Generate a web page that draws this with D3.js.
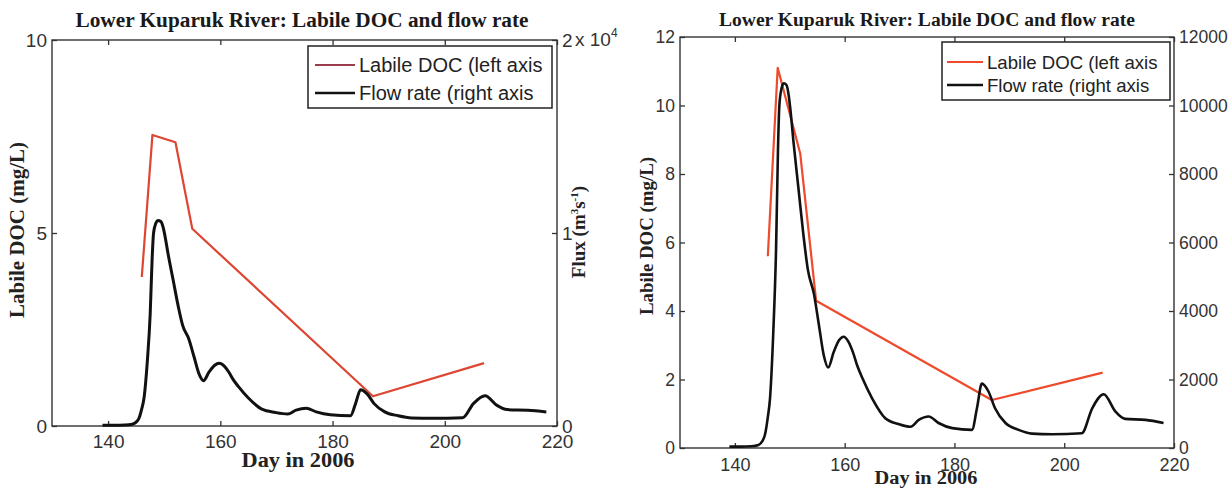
<!DOCTYPE html>
<html>
<head>
<meta charset="utf-8">
<script src="https://cdnjs.cloudflare.com/ajax/libs/d3/7.8.5/d3.min.js"></script>
<style>
  body { margin: 0; background: #fff; }
  svg { display: block; }
</style>
</head>
<body>
<script>
/* global d3 */
// flow rate (m3/s), day of year 2006 - same record in both panels
var flowDay = [139.0, 141.0, 143.0, 144.3, 145.0, 145.5, 146.0, 146.4, 147.0, 147.5,
  147.85, 148.1, 148.5, 148.9, 149.4, 149.8, 150.1, 150.7, 151.6, 152.5,
  153.3, 154.4, 155.3, 156.2, 157.0, 158.0, 159.0, 159.8, 160.7, 161.5,
  162.3, 163.2, 165.0, 167.4, 169.8, 172.0, 173.5, 175.3, 177.1, 179.6,
  183.2, 184.1, 185.0, 186.2, 187.4, 189.3, 191.7, 194.1, 197.8, 203.2,
  205.1, 207.2, 209.3, 211.1, 214.8, 218.1]
var flowRate = [40, 40, 50, 90, 200, 400, 900, 1450, 3400, 5800,
  8700, 10000, 10500, 10650, 10600, 10300, 9900, 8900, 7550, 6200,
  5200, 4500, 3600, 2700, 2350, 2800, 3150, 3250, 3100, 2800,
  2400, 2050, 1450, 870, 700, 620, 820, 920, 730, 580,
  530, 1160, 1880, 1650, 1160, 730, 530, 420, 400, 430,
  1160, 1570, 1070, 850, 820, 730]

// labile DOC (mg/L), left and right panel
var docDayA = [146.0, 147.9, 152.0, 155.0, 187.2, 207.0]
var docA = [3.86, 7.54, 7.35, 5.11, 0.77, 1.63]
var docDayB = [146.0, 147.8, 151.9, 154.8, 186.8, 207.0]
var docB = [5.6, 11.1, 8.6, 4.3, 1.4, 2.2]

var dayTicks = [140, 160, 180, 200, 220]
var docTicksA = [0, 5, 10]
var flowTicksA = [0, 10000, 20000]
var docTicksB = [0, 2, 4, 6, 8, 10, 12]
var flowTicksB = [0, 2000, 4000, 6000, 8000, 10000, 12000]

var titleText = 'Lower Kuparuk River: Labile DOC and flow rate'
var legendText = ['Labile DOC (left axis', 'Flow rate (right axis']

;(function () {
  'use strict'

  var svg = d3.select('body').append('svg')
    .attr('width', 1231)
    .attr('height', 492)

  var serif = '"Liberation Serif", "Times New Roman", serif'
  var sans = '"Liberation Sans", Arial, sans-serif'

  var flow = flowDay.map(function (d, i) { return { day: d, v: flowRate[i] } })

  var panels = [
    {
      x: [52, 557], y: [426, 40],
      doc: docDayA.map(function (d, i) { return { day: d, v: docA[i] } }),
      docMax: 10, flowMax: 20000, docTicks: docTicksA, flowTicks: flowTicksA,
      flowFmt: function (d) { return String(d / 10000) },
      red: '#dc4632', legendRed: '#9a3c4c', flowW: 3,
      fs: 19, title: { x: 302, y: 27, len: 453, fs: 20 },
      xlab: { x: 298, y: 467, len: 113, fs: 20 },
      ylab: { x: 24, y: 230, len: 176, fs: 20 },
      legend: { x: 308, y: 46, w: 244, h: 62, row: [65, 93], line: [315, 355], tx: 359, fs: 20 },
      xPad: 9
    },
    {
      x: [680, 1174], y: [448, 37],
      doc: docDayB.map(function (d, i) { return { day: d, v: docB[i] } }),
      docMax: 12, flowMax: 12000, docTicks: docTicksB, flowTicks: flowTicksB,
      flowFmt: function (d) { return String(d) },
      red: '#ee4a2b', legendRed: '#ee4a2b', flowW: 2.6,
      fs: 17.5, title: { x: 927, y: 26, len: 416, fs: 18.5 },
      xlab: { x: 926, y: 484, len: 103, fs: 18.5 },
      ylab: { x: 653, y: 236, len: 158, fs: 18.5 },
      legend: { x: 942, y: 42, w: 228, h: 58, row: [62, 85], line: [947, 983], tx: 987, fs: 18.6 },
      xPad: 10
    }
  ]

  panels.forEach(function (p, i) { plot(p, i) })

  function plot (p, idx) {
    var x = d3.scaleLinear().domain([130, 220]).range(p.x)
    var yDoc = d3.scaleLinear().domain([0, p.docMax]).range(p.y)
    var yFlow = d3.scaleLinear().domain([0, p.flowMax]).range(p.y)
    var g = svg.append('g').attr('class', 'panel-' + idx)

    // frame
    g.append('rect')
      .attr('x', p.x[0]).attr('y', p.y[1])
      .attr('width', p.x[1] - p.x[0]).attr('height', p.y[0] - p.y[1])
      .attr('fill', 'none').attr('stroke', '#333').attr('stroke-width', 1.4)

    // axes, matlab style ticks pointing inward
    var bottom = d3.axisBottom(x).tickValues(dayTicks).tickSize(-5).tickSizeOuter(0).tickPadding(p.xPad)
    var top = d3.axisTop(x).tickValues(dayTicks).tickSize(-5).tickSizeOuter(0).tickFormat('')
    var left = d3.axisLeft(yDoc).tickValues(p.docTicks).tickSize(-5).tickSizeOuter(0).tickPadding(5)
    var right = d3.axisRight(yFlow).tickValues(p.flowTicks).tickSize(-5).tickSizeOuter(0)
      .tickPadding(5).tickFormat(p.flowFmt)

    styleAxis(g.append('g').attr('transform', 'translate(0,' + p.y[0] + ')').call(bottom), p.fs + (idx ? 0.5 : 0))
    styleAxis(g.append('g').attr('transform', 'translate(0,' + p.y[1] + ')').call(top), p.fs)
    styleAxis(g.append('g').attr('transform', 'translate(' + p.x[0] + ',0)').call(left), p.fs)
    var rAxis = g.append('g').attr('transform', 'translate(' + p.x[1] + ',0)').call(right)
    styleAxis(rAxis, p.fs)

    if (idx === 0) {
      // exponent for the flux axis
      var mult = g.append('text')
        .attr('x', p.x[1] + 18).attr('y', yFlow(20000) + 6)
        .attr('font-family', sans).attr('font-size', p.fs).attr('fill', '#333')
        .text('x 10')
      mult.append('tspan').attr('dy', -9).attr('font-size', 12).text('4')

      var flux = g.append('text')
        .attr('transform', 'translate(585,232) rotate(-90)')
        .attr('text-anchor', 'middle')
        .attr('font-family', serif).attr('font-weight', 'bold')
        .attr('font-size', 19).attr('fill', '#222')
        .text('Flux (m')
      flux.append('tspan').attr('dy', -7).attr('font-size', 11).text('3')
      flux.append('tspan').attr('dy', 7).text('s')
      flux.append('tspan').attr('dy', -7).attr('font-size', 11).text('-1')
      flux.append('tspan').attr('dy', 7).text(')')
    }

    // series
    var docLine = d3.line()
      .x(function (d) { return x(d.day) })
      .y(function (d) { return yDoc(d.v) })
    var flowLine = d3.line()
      .curve(d3.curveMonotoneX)
      .x(function (d) { return x(d.day) })
      .y(function (d) { return yFlow(d.v) })

    g.append('path').datum(p.doc)
      .attr('d', docLine)
      .attr('fill', 'none').attr('stroke', p.red).attr('stroke-width', 2.2)
      .attr('stroke-linejoin', 'round')

    g.append('path').datum(flow)
      .attr('d', flowLine)
      .attr('fill', 'none').attr('stroke', '#111').attr('stroke-width', p.flowW)
      .attr('stroke-linejoin', 'round')

    // texts
    g.append('text')
      .attr('x', p.title.x).attr('y', p.title.y)
      .attr('text-anchor', 'middle')
      .attr('font-family', serif).attr('font-weight', 'bold')
      .attr('font-size', p.title.fs).attr('fill', '#1a1a1a')
      .attr('textLength', p.title.len).attr('lengthAdjust', 'spacingAndGlyphs')
      .text(titleText)

    g.append('text')
      .attr('x', p.xlab.x).attr('y', p.xlab.y)
      .attr('text-anchor', 'middle')
      .attr('font-family', serif).attr('font-weight', 'bold')
      .attr('font-size', p.xlab.fs).attr('fill', '#222')
      .attr('textLength', p.xlab.len).attr('lengthAdjust', 'spacingAndGlyphs')
      .text('Day in 2006')

    g.append('text')
      .attr('transform', 'translate(' + p.ylab.x + ',' + p.ylab.y + ') rotate(-90)')
      .attr('text-anchor', 'middle')
      .attr('font-family', serif).attr('font-weight', 'bold')
      .attr('font-size', p.ylab.fs).attr('fill', '#222')
      .attr('textLength', p.ylab.len).attr('lengthAdjust', 'spacingAndGlyphs')
      .text('Labile DOC (mg/L)')

    // legend
    var L = p.legend
    var lg = g.append('g').attr('class', 'legend')
    lg.append('rect')
      .attr('x', L.x).attr('y', L.y).attr('width', L.w).attr('height', L.h)
      .attr('fill', '#fff').attr('stroke', '#222').attr('stroke-width', 1.5)
    var colors = [p.legendRed, '#111']
    legendText.forEach(function (t, k) {
      lg.append('line')
        .attr('x1', L.line[0]).attr('x2', L.line[1])
        .attr('y1', L.row[k]).attr('y2', L.row[k])
        .attr('stroke', colors[k]).attr('stroke-width', k ? 2.6 : 2)
      lg.append('text')
        .attr('x', L.tx).attr('y', L.row[k]).attr('dy', '0.36em')
        .attr('font-family', sans).attr('font-size', L.fs).attr('fill', '#222')
        .text(t)
    })
  }

  function styleAxis (sel, fs) {
    sel.select('.domain').remove()
    sel.selectAll('.tick line').attr('stroke', '#333').attr('stroke-width', 1.3)
    sel.selectAll('.tick text')
      .attr('font-family', sans).attr('font-size', fs).attr('fill', '#333')
  }
}())
</script>
</body>
</html>
